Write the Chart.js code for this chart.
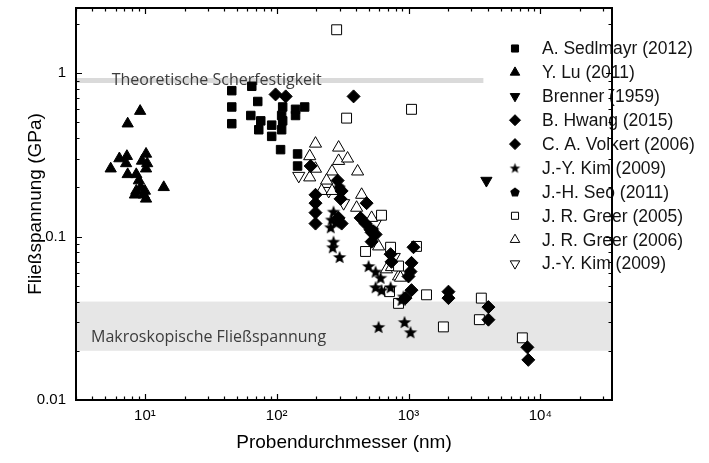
<!DOCTYPE html>
<html>
<head>
<meta charset="utf-8">
<title>Fließspannung vs. Probendurchmesser</title>
<script src="https://cdn.jsdelivr.net/npm/chart.js@4.4.0/dist/chart.umd.min.js"></script>
<style>
  html, body { margin: 0; padding: 0; background: #fff; }
  #wrap { width: 709px; height: 463px; position: relative; }
</style>
</head>
<body>
<div id="wrap"><canvas id="chart"></canvas></div>
<script>
// ---------- data: [diameter (nm), yield stress (GPa)] ----------
const sedlmayr2012 = [[45.6,0.78],[45.6,0.62],[45.6,0.49],[64.7,0.83],[71.8,0.67],[63.6,0.55],[75.7,0.51],[73.1,0.45],
  [91.6,0.48],[91.6,0.41],[111,0.62],[109,0.55],[111,0.51],[109,0.45],[107,0.34],[139,0.60],[163,0.62],[139,0.55],
  [144,0.32],[144,0.27]];
const lu2011 = [[9.2,0.585],[7.4,0.49],[7.3,0.31],[10.2,0.32],[6.4,0.30],[5.5,0.26],[7.2,0.28],[9.5,0.29],[10.4,0.28],
  [7.4,0.24],[8.6,0.24],[10.2,0.26],[13.9,0.20],[9.3,0.20],[8.6,0.19],[9.8,0.18],[10.2,0.17],[8.4,0.18],[10.0,0.19],[9.0,0.22]];
const brenner1959 = [[3900,0.22]];
const hwang2015 = [[98,0.74],[117,0.72],[383,0.72],[181,0.27],[290,0.22],[311,0.19],[305,0.17],[197,0.18],[197,0.16],
  [197,0.14],[197,0.12],[295,0.13],[311,0.12]];
const volkert2006 = [[481,0.16],[433,0.13],[472,0.12],[515,0.11],[525,0.106],[563,0.103],[525,0.093],[731,0.078],[743,0.070],
  [1091,0.086],[1054,0.069],[1036,0.061],[1000,0.057],[1054,0.047],[2010,0.046],[2010,0.042],[949,0.042],[4040,0.037],
  [4040,0.031],[7980,0.021],[8110,0.0176]];
const kim2009 = [[270,0.142],[261,0.127],[280,0.122],[257,0.114],[270,0.093],[266,0.086],[300,0.075],[498,0.066],[563,0.061],
  [614,0.056],[563,0.049],[624,0.047],[731,0.049],[916,0.043],[885,0.041],[593,0.028],[933,0.030],[1036,0.026]];
const seo2011 = [[300,0.20],[540,0.11]];
const greer2005 = [[285,1.84],[339,0.53],[1054,0.60],[624,0.135],[472,0.081],[731,0.086],[840,0.066],[1150,0.087],[1370,0.044],
  [718,0.046],[840,0.039],[1840,0.028],[3450,0.031],[3570,0.042],[7310,0.024]];
const greer2006 = [[197,0.37],[295,0.35],[178,0.31],[295,0.29],[345,0.30],[263,0.25],[411,0.25],[178,0.23],[197,0.26],[239,0.22],
  [219,0.19],[263,0.19],[441,0.18],[404,0.15],[525,0.13],[593,0.087],[681,0.063],[840,0.057],[743,0.065],[869,0.056]];
const kimOpen2009 = [[147,0.235],[248,0.19],[322,0.16],[560,0.12],[780,0.075]];

const seriesNames = ['A. Sedlmayr (2012)','Y. Lu (2011)','Brenner (1959)','B. Hwang (2015)','C. A. Volkert (2006)',
  'J.-Y. Kim (2009)','J.-H. Seo (2011)','J. R. Greer (2005)','J. R. Greer (2006)','J.-Y. Kim (2009)'];

// axis ranges and reference levels
const xRange = [3, 35000];
const yRange = [0.01, 2.5];
const theoLevel = 0.9;              // theoretical shear strength, GPa
const theoLineTo = 3700;            // nm, where the line stops
const macroBand = [0.02, 0.04];     // macroscopic yield stress, GPa
const theoText = 'Theoretische Scherfestigkeit';
const macroText = 'Makroskopische Fließspannung';
const theoTextAt = [5.6, 0.9];
const macroTextAt = [3.9, 0.024];

const SUP = {1:'¹',2:'²',3:'³',4:'⁴'};

// ---------- marker shapes not built into Chart.js ----------
function polyCanvas(r, n, inner) {
  const s = Math.ceil(r * 2 + 2);
  const c = document.createElement('canvas');
  c.width = c.height = s;
  const g = c.getContext('2d');
  g.translate(s / 2, s / 2 + r * 0.1);
  g.beginPath();
  const k = inner ? n * 2 : n;
  for (let i = 0; i < k; i++) {
    const rr = inner && i % 2 ? r * inner : r;
    const a = -Math.PI / 2 + i * 2 * Math.PI / k;
    g.lineTo(rr * Math.cos(a), rr * Math.sin(a));
  }
  g.closePath();
  g.fillStyle = '#000';
  g.fill();
  return c;
}
const starBig = polyCanvas(7, 5, 0.42), starSmall = polyCanvas(5.5, 5, 0.42);
const pentBig = polyCanvas(6, 5), pentSmall = polyCanvas(5, 5);

const toXY = arr => arr.map(p => ({x: p[0], y: p[1]}));

function filled(label, data, style, r, extra) {
  return Object.assign({label, data: toXY(data), pointStyle: style, pointRadius: r,
    backgroundColor: '#000', borderColor: '#000', borderWidth: 1, showLine: false}, extra || {});
}
function open(label, data, style, r, extra) {
  return Object.assign({label, data: toXY(data), pointStyle: style, pointRadius: r,
    backgroundColor: '#fff', borderColor: '#000', borderWidth: 1, showLine: false, open: true}, extra || {});
}

const datasets = [
  filled(seriesNames[0], sedlmayr2012, 'rect', 6, {legendR: 5}),
  filled(seriesNames[1], lu2011, 'triangle', 6.5, {legendR: 5.5}),
  filled(seriesNames[2], brenner1959, 'triangle', 6.5, {rotation: 180, legendR: 5.5}),
  filled(seriesNames[3], hwang2015, 'rectRot', 6.5, {legendR: 5.5}),
  filled(seriesNames[4], volkert2006, 'rectRot', 6.5, {legendR: 5.5}),
  filled(seriesNames[5], kim2009, starBig, 6, {legendStyle: starSmall}),
  filled(seriesNames[6], seo2011, pentBig, 6, {legendStyle: pentSmall}),
  open(seriesNames[7], greer2005, 'rect', 7, {legendR: 5}),
  open(seriesNames[8], greer2006, 'triangle', 7, {legendR: 5.5}),
  open(seriesNames[9], kimOpen2009, 'triangle', 7, {rotation: 180, legendR: 5.5})
];

function isNice(v) {
  const e = Math.floor(Math.log10(v) + 1e-9);
  const m = v / Math.pow(10, e);
  return Math.abs(m - Math.round(m)) < 1e-6;
}
function isDecade(v) {
  const l = Math.log10(v);
  return Math.abs(l - Math.round(l)) < 1e-9;
}

// ---------- plugins ----------
const bands = {
  id: 'bands',
  beforeDatasetsDraw(chart) {
    const {ctx, chartArea: a, scales: {x, y}} = chart;
    ctx.save();
    ctx.fillStyle = '#e6e6e6';
    const yTop = y.getPixelForValue(macroBand[1]), yBot = y.getPixelForValue(macroBand[0]);
    ctx.fillRect(a.left, yTop, a.right - a.left, yBot - yTop);
    ctx.strokeStyle = '#dadada';
    ctx.lineWidth = 5;
    ctx.beginPath();
    const ty = y.getPixelForValue(theoLevel);
    ctx.moveTo(a.left, ty);
    ctx.lineTo(x.getPixelForValue(theoLineTo), ty);
    ctx.stroke();
    ctx.fillStyle = '#3c3c3c';
    ctx.font = '16px "Open Sans", sans-serif';
    ctx.textBaseline = 'middle';
    ctx.fillText(theoText, x.getPixelForValue(theoTextAt[0]), y.getPixelForValue(theoTextAt[1]));
    ctx.fillText(macroText, x.getPixelForValue(macroTextAt[0]), y.getPixelForValue(macroTextAt[1]));
    ctx.restore();
  }
};

const frame = {
  id: 'frame',
  afterDraw(chart) {
    const {ctx, chartArea: a, scales: {x, y}} = chart;
    ctx.save();
    ctx.strokeStyle = '#000';
    ctx.lineWidth = 1.2;
    ctx.beginPath();
    x.ticks.forEach(t => {
      if (!isNice(t.value)) return;
      const px = Math.round(x.getPixelForValue(t.value)) + 0.5;
      const len = isDecade(t.value) ? 6 : 3.5;
      ctx.moveTo(px, a.bottom); ctx.lineTo(px, a.bottom - len);
      ctx.moveTo(px, a.top); ctx.lineTo(px, a.top + len);
    });
    y.ticks.forEach(t => {
      if (!isNice(t.value)) return;
      const py = Math.round(y.getPixelForValue(t.value)) + 0.5;
      const len = isDecade(t.value) ? 6 : 3.5;
      ctx.moveTo(a.left, py); ctx.lineTo(a.left + len, py);
      ctx.moveTo(a.right, py); ctx.lineTo(a.right - len, py);
    });
    ctx.stroke();
    ctx.lineWidth = 2;
    ctx.strokeRect(a.left, a.top, a.right - a.left, a.bottom - a.top);
    ctx.restore();
  }
};

const legendList = {
  id: 'legendList',
  afterDatasetsDraw(chart) {
    const ctx = chart.ctx;
    ctx.save();
    ctx.font = '17.5px "Liberation Sans", Arial, sans-serif';
    ctx.textBaseline = 'middle';
    chart.data.datasets.forEach((ds, i) => {
      const yy = 48.5 + i * 23.9;
      ctx.fillStyle = ds.open ? '#fff' : '#000';
      ctx.strokeStyle = '#000';
      ctx.lineWidth = 1;
      Chart.helpers.drawPoint(ctx, {
        pointStyle: ds.legendStyle || ds.pointStyle,
        rotation: ds.rotation || 0,
        radius: ds.legendR || 5,
        borderWidth: 1
      }, 515, yy);
      ctx.fillStyle = '#141414';
      ctx.fillText(ds.label, 542, yy + 1);
    });
    ctx.restore();
  }
};

const tickFont = {family: '"Liberation Sans", Arial, sans-serif', size: 15};
const titleFont = {family: '"Liberation Sans", Arial, sans-serif', size: 19};

new Chart(document.getElementById('chart'), {
  type: 'scatter',
  data: { datasets },
  options: {
    responsive: true,
    maintainAspectRatio: false,
    animation: false,
    layout: { padding: { top: 8, right: 97, left: 0, bottom: 0 } },
    plugins: { legend: { display: false }, tooltip: { enabled: false } },
    scales: {
      x: {
        type: 'logarithmic', min: xRange[0], max: xRange[1],
        grid: { display: false, drawTicks: false }, border: { display: false },
        ticks: {
          autoSkip: false, maxRotation: 0, padding: 7, color: '#000', font: tickFont,
          callback: v => isDecade(v) ? '10' + SUP[Math.round(Math.log10(v))] : ''
        },
        title: { display: true, text: 'Probendurchmesser (nm)', color: '#000', font: titleFont, padding: { top: 0, bottom: 9 } },
        afterFit: s => { s.height = 63; s.paddingLeft = 0; s.paddingRight = 0; }
      },
      y: {
        type: 'logarithmic', min: yRange[0], max: yRange[1],
        grid: { display: false, drawTicks: false }, border: { display: false },
        ticks: {
          autoSkip: false, padding: 10, color: '#000', font: tickFont,
          callback: v => isDecade(v) ? String(Number(v.toPrecision(1))) : ''
        },
        title: { display: true, text: 'Fließspannung (GPa)', color: '#000', font: titleFont, padding: { top: 24, bottom: 0 } },
        afterFit: s => { s.width = 76; s.paddingTop = 0; s.paddingBottom = 0; }
      }
    }
  },
  plugins: [bands, legendList, frame]
});
</script>
</body>
</html>
